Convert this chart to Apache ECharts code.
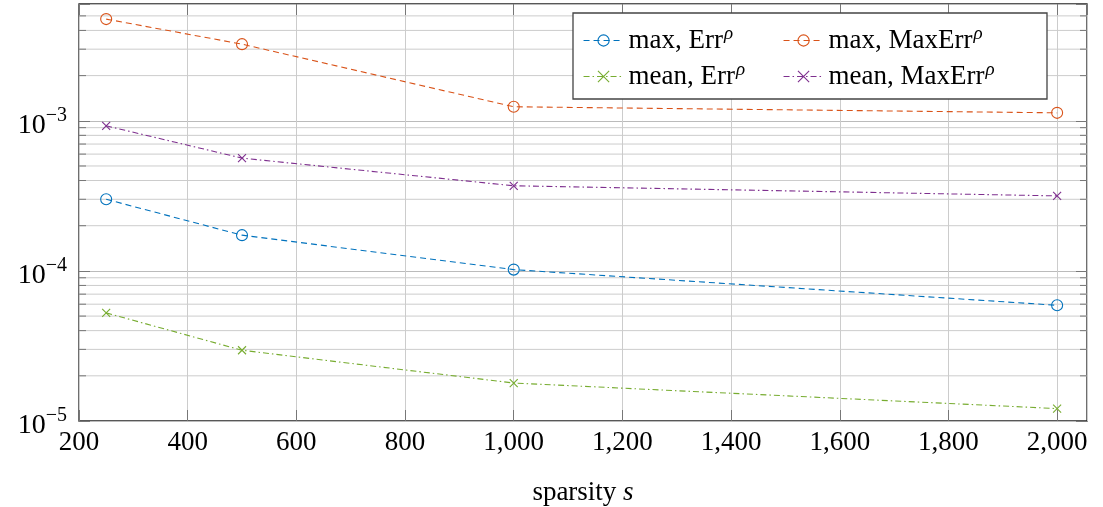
<!DOCTYPE html>
<html>
<head>
<meta charset="utf-8">
<script src="https://cdn.jsdelivr.net/npm/echarts@6/dist/echarts.min.js"></script>
<style>
  html, body { margin: 0; padding: 0; background: #fff; }
  #chart { width: 1103px; height: 507px; }
</style>
</head>
<body>
<div id="chart"></div>
<script>
const sparsity = [250, 500, 1000, 2000]
const maxErr = [3.0e-4, 1.73e-4, 1.02e-4, 5.9e-5]
const maxMaxErr = [4.76e-3, 3.24e-3, 1.24e-3, 1.13e-3]
const meanErr = [5.25e-5, 2.96e-5, 1.79e-5, 1.21e-5]
const meanMaxErr = [9.26e-4, 5.64e-4, 3.69e-4, 3.16e-4]
const minorTicks = [
    2e-5, 3e-5, 4e-5, 5e-5, 6e-5, 7e-5, 8e-5, 9e-5,
    2e-4, 3e-4, 4e-4, 5e-4, 6e-4, 7e-4, 8e-4, 9e-4,
    2e-3, 3e-3, 4e-3, 5e-3
]

const FONT = 'Liberation Serif'
const gridColor = '#cccccc'
const tickColor = '#777777'
const crossPath = 'path://M0,0L10,10M10,0L0,10'
const X_MIN = 200
const X_MAX = 2055

const pair = (xs, ys) => xs.map((x, i) => [x, ys[i]])

const names = {
    a: 'max, Err',
    b: 'max, MaxErr',
    c: 'mean, Err',
    d: 'mean, MaxErr'
}

const makeSeries = (name, data, color, dash, symbol) => ({
    name: name,
    type: 'line',
    data: data,
    symbol: symbol === 'circle' ? 'circle' : crossPath,
    symbolSize: symbol === 'circle' ? 11 : 8,
    showAllSymbol: true,
    lineStyle: { color: color, width: 1.1, type: dash },
    itemStyle: { color: 'rgba(0,0,0,0)', borderColor: color, borderWidth: 1.1 },
    emphasis: { disabled: true },
    z: 5
})

const dashed = [6, 4]
const dashDot = [6, 3, 1.5, 3]

const chart = echarts.init(document.getElementById('chart'))

const legendText = {
    fontFamily: FONT,
    fontSize: 27,
    color: '#000',
    rich: {
        t: { fontFamily: FONT, fontSize: 27, color: '#000' },
        s: { fontFamily: FONT, fontSize: 19, fontStyle: 'italic', color: '#000', padding: [0, 0, 14, 1] }
    }
}
const legendFormatter = (name) => '{t|' + name + '}{s|ρ}'

const legendBase = {
    orient: 'vertical',
    top: 19,
    itemWidth: 40, itemHeight: 14, itemGap: 6,
    formatter: legendFormatter,
    textStyle: legendText,
    selectedMode: false,
    lineStyle: { width: 1.1 },
    itemStyle: { borderWidth: 1.1 },
    z: 11
}

const onStep = (v) => Math.abs(v / 200 - Math.round(v / 200)) < 1e-9

chart.setOption({
    animation: false,
    grid: {
        left: 79, right: 16, top: 4, bottom: 86,
        outerBoundsMode: 'none',
        containLabel: false,
        show: true, borderColor: '#222', borderWidth: 1.3, backgroundColor: 'transparent'
    },
    graphic: [{
        type: 'rect',
        shape: { x: 573, y: 13, width: 474, height: 86 },
        style: { fill: '#fff', stroke: '#444', lineWidth: 1.3 },
        z: 10
    }],
    legend: [
        Object.assign({}, legendBase, { data: [names.a, names.c], left: 578 }),
        Object.assign({}, legendBase, { data: [names.b, names.d], left: 778 })
    ],
    xAxis: [{
        type: 'value',
        min: X_MIN, max: X_MAX, interval: 200,
        name: '{n|sparsity }{i|s}',
        nameLocation: 'middle',
        nameGap: 58,
        nameTextStyle: {
            rich: {
                n: { fontFamily: FONT, fontSize: 27, color: '#000' },
                i: { fontFamily: FONT, fontSize: 27, fontStyle: 'italic', color: '#000' }
            }
        },
        axisLine: { show: false },
        axisTick: { show: true, inside: true, length: 11, lineStyle: { color: tickColor } },
        axisLabel: {
            fontFamily: FONT, fontSize: 27, color: '#000', margin: 8,
            showMaxLabel: false,
            formatter: (v) => onStep(v) ? v.toLocaleString('en-US') : ''
        },
        splitLine: { show: true, lineStyle: { color: gridColor, width: 1 } }
    }, {
        type: 'value',
        position: 'top',
        min: X_MIN, max: X_MAX, interval: 200,
        axisLine: { show: false },
        axisTick: { show: true, inside: true, length: 11, lineStyle: { color: tickColor } },
        axisLabel: { show: false },
        splitLine: { show: false }
    }],
    yAxis: [{
        type: 'log',
        logBase: 10,
        min: 1e-5, max: 6e-3,
        axisLine: { show: false },
        axisTick: { show: true, inside: true, length: 11, lineStyle: { color: tickColor } },
        axisLabel: {
            margin: 12,
            formatter: (v) => {
                const e = Math.round(Math.log10(v))
                if (Math.abs(Math.log10(v) - e) > 1e-6) return ''
                return '{b|10}{s|−' + (-e) + '}'
            },
            rich: {
                b: { fontFamily: FONT, fontSize: 28, color: '#000', padding: [10, 0, 0, 0] },
                s: { fontFamily: FONT, fontSize: 20, color: '#000', padding: [0, 0, 10, 0] }
            }
        },
        splitLine: { show: true, lineStyle: { color: '#bbbbbb', width: 1.2 } }
    }, {
        type: 'log',
        logBase: 10,
        position: 'right',
        min: 1e-5, max: 6e-3,
        axisLine: { show: false },
        axisTick: { show: true, inside: true, length: 11, lineStyle: { color: tickColor } },
        axisLabel: { show: false },
        splitLine: { show: false }
    }],
    series: [
        {
            type: 'custom',
            silent: true,
            z: 1,
            data: minorTicks.map((v) => [X_MIN, v]),
            renderItem: (params, api) => {
                const cs = params.coordSys
                const y = api.coord([api.value(0), api.value(1)])[1]
                const ln = (x1, x2, color) => ({
                    type: 'line',
                    shape: { x1: x1, y1: y, x2: x2, y2: y },
                    style: { stroke: color, lineWidth: 1 }
                })
                return {
                    type: 'group',
                    children: [
                        ln(cs.x, cs.x + cs.width, gridColor),
                        ln(cs.x, cs.x + 7, tickColor),
                        ln(cs.x + cs.width - 7, cs.x + cs.width, tickColor)
                    ]
                }
            }
        },
        makeSeries(names.a, pair(sparsity, maxErr), '#0072BD', dashed, 'circle'),
        makeSeries(names.b, pair(sparsity, maxMaxErr), '#D95319', dashed, 'circle'),
        makeSeries(names.c, pair(sparsity, meanErr), '#77AC30', dashDot, 'cross'),
        makeSeries(names.d, pair(sparsity, meanMaxErr), '#7E2F8E', dashDot, 'cross')
    ]
})
</script>
</body>
</html>
